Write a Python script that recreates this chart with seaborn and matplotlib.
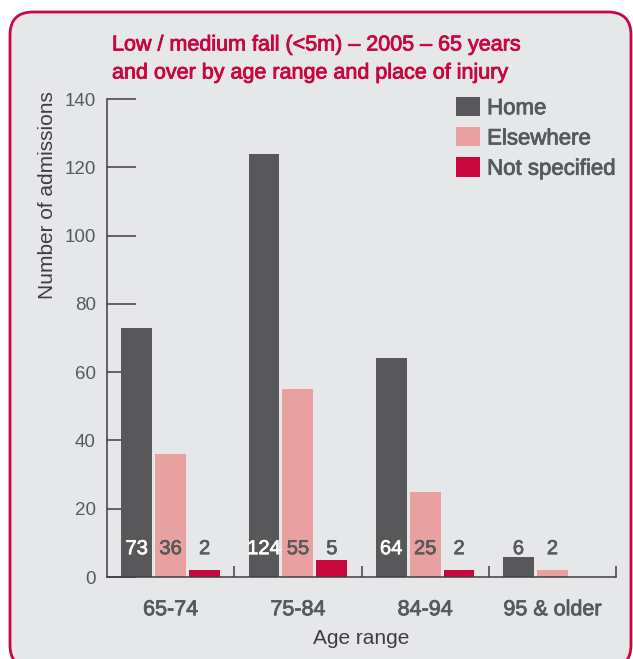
import matplotlib
matplotlib.use("Agg")
import matplotlib.pyplot as plt
import matplotlib.patheffects as pe
from matplotlib.patches import FancyBboxPatch
from matplotlib.ticker import FixedLocator, NullFormatter
import seaborn as sns
import pandas as pd

# Admissions for low / medium falls, 65+ years, 2005
age_ranges = ["65-74", "75-84", "84-94", "95 & older"]
places = ["Home", "Elsewhere", "Not specified"]
home = [73, 124, 64, 6]
elsewhere = [36, 55, 25, 2]
not_specified = [2, 5, 2, 0]

colors = ["#58585A", "#E8A1A0", "#C8073F"]
grey = "#58595B"
dark = "#3E3E40"
crimson = "#C8073F"
panel_bg = "#E6E7E9"

df = pd.DataFrame({
    "age": age_ranges * 3,
    "place": [p for p in places for _ in age_ranges],
    "count": home + elsewhere + not_specified,
})

sns.set_theme(style="white")
plt.rcParams["font.family"] = ["Liberation Sans", "DejaVu Sans"]


def medium(color, w=0.6):
    # thin outline in the text colour gives a medium-weight look
    return [pe.withStroke(linewidth=w, foreground=color)]


fig = plt.figure(figsize=(6.33, 6.59), dpi=100)
fig.patch.set_facecolor("white")

# rounded panel behind the chart
panel = FancyBboxPatch((0.10, -0.09), 6.21, 6.56,
                       boxstyle="round,pad=0,rounding_size=0.23",
                       transform=fig.dpi_scale_trans,
                       facecolor=panel_bg, edgecolor=crimson, linewidth=2.0,
                       zorder=-10)
fig.patches.append(panel)

ax = fig.add_axes([107 / 633, 82 / 659, 509 / 633, 478 / 659])
ax.set_facecolor("none")
ax.set_zorder(1)

sns.barplot(data=df, x="age", y="count", hue="place", order=age_ranges,
            hue_order=places, palette=colors, width=0.8, gap=0.09,
            saturation=1, linewidth=0, edgecolor="none", ax=ax, legend=True)

ax.set_ylim(0, 140)
ax.set_xlim(-0.5, 3.5)
ax.set_yticks(range(0, 141, 20))

# value labels near the base of each bar
for container, place in zip(ax.containers, places):
    for bar, val in zip(container, container.datavalues):
        if val <= 0:
            continue
        color = "white" if (place == "Home" and val > 12) else grey
        ax.text(bar.get_x() + bar.get_width() / 2, 8.3, f"{int(val)}",
                ha="center", va="center", fontsize=14.5, color=color,
                zorder=5, path_effects=medium(color, 0.5))

for side in ["top", "right"]:
    ax.spines[side].set_visible(False)
for side in ["left", "bottom"]:
    ax.spines[side].set_color(dark)
    ax.spines[side].set_linewidth(1.1)

ax.tick_params(axis="y", left=True, direction="in", length=21, width=1.1,
               color=dark, pad=8, labelsize=13.5, labelcolor=grey)
ax.tick_params(axis="x", which="major", bottom=True, length=0, pad=16,
               labelsize=15.5, labelcolor=grey)
ax.xaxis.set_minor_locator(FixedLocator([0.5, 1.5, 2.5, 3.5]))
ax.xaxis.set_minor_formatter(NullFormatter())
ax.tick_params(axis="x", which="minor", bottom=True, direction="in",
               length=8, width=1.1, color=dark)
for lbl in ax.get_xticklabels():
    lbl.set_path_effects(medium(grey))

ax.set_xlabel("Age range", fontsize=15, color=dark, labelpad=6)
ax.set_ylabel("Number of admissions", fontsize=15, color=dark)
ax.yaxis.set_label_coords(-0.099, 0.80)

handles, labels = ax.get_legend_handles_labels()
leg = ax.legend(handles, labels, loc="upper left",
                bbox_to_anchor=(456 / 633, 1 - 97 / 659),
                bbox_transform=fig.transFigure, frameon=False,
                borderpad=0, borderaxespad=0,
                fontsize=16, handlelength=1.1, handleheight=0.95,
                handletextpad=0.3, labelspacing=0.36)
for t in leg.get_texts():
    t.set_color(grey)
    t.set_path_effects(medium(grey))

for y, line in [(45, "Low / medium fall (<5m) \u2013 2005 \u2013 65 years"),
                (73, "and over by age range and place of injury")]:
    fig.text(112 / 633, 1 - y / 659, line, color=crimson, fontsize=15.5,
             va="center", ha="left", path_effects=medium(crimson))

fig.savefig("out.png", dpi=100, facecolor=fig.get_facecolor())
